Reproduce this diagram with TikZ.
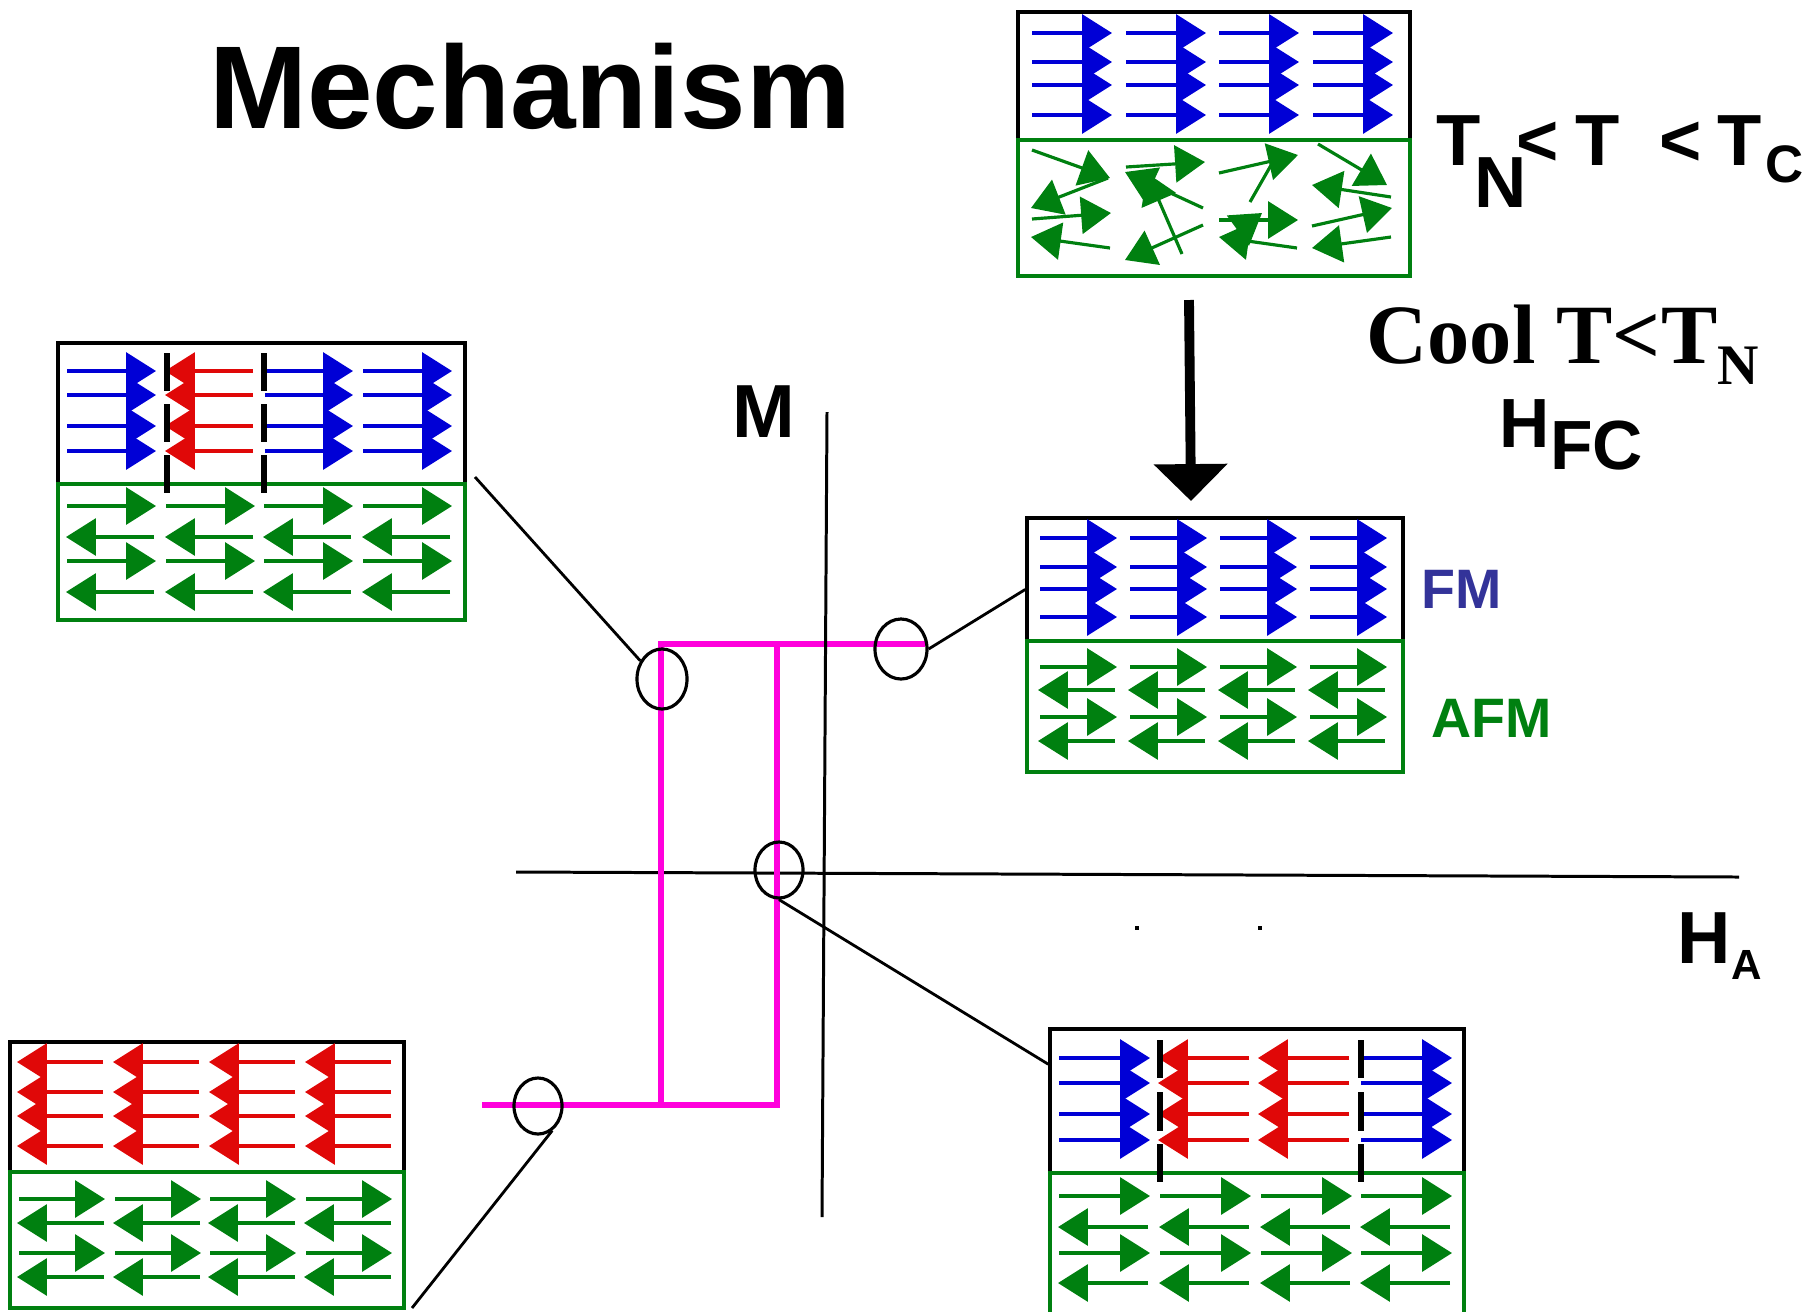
\documentclass[tikz,border=0pt]{standalone}
\usepackage{fontspec}
\setmainfont{Liberation Serif}
\setsansfont{Liberation Sans}
\usetikzlibrary{arrows.meta,shapes.geometric,fit}

\definecolor{spinblue}{RGB}{0,0,214}
\definecolor{spinred}{RGB}{224,8,8}
\definecolor{afmgreen}{RGB}{0,128,16}
\definecolor{loopmag}{RGB}{255,0,220}
\definecolor{fmtext}{RGB}{51,51,153}

\tikzset{
    spin/.style={
        line width=0.9pt,
        -{Triangle[length=8.5pt,width=10.5pt]}
    },
    fmframe/.style={
        draw=black,
        line width=1pt,
        inner sep=0pt
    },
    afmframe/.style={
        draw=afmgreen,
        line width=1pt,
        inner sep=0pt
    },
    ring/.style={
        shape=ellipse,
        draw,
        line width=0.9pt,
        inner sep=0pt,
        minimum width=0.5cm,
        minimum height=0.6cm
    },
    tag/.style={
        inner sep=0pt,
        anchor=base west
    }
}

\begin{document}
\begin{tikzpicture}[
			x=0.01cm, y=-0.01cm,
			wall/.style={line width=1.8pt},
			lead/.style={line width=0.8pt},
			axis/.style={line width=0.85pt},
			hyst/.style={draw=loopmag, line width=1.7pt}
			]
			\useasboundingbox (0,0) rectangle (1818,1311);

			% bilayer frames
			\node (fmT) [fmframe, fit={(1018,12) (1410,140)}] {};
			\node (afmT) [afmframe, fit={(1018,140) (1410,276)}] {};
			\node (fmL) [fmframe, fit={(58,343) (465,484)}] {};
			\node (afmL) [afmframe, fit={(58,484) (465,620)}] {};
			\node (fmM) [fmframe, fit={(1027,518) (1403,641)}] {};
			\node (afmM) [afmframe, fit={(1027,641) (1403,772)}] {};
			\node (fmBL) [fmframe, fit={(10,1042) (404,1172)}] {};
			\node (afmBL) [afmframe, fit={(10,1172) (404,1308)}] {};
			\node (fmBR) [fmframe, fit={(1050,1029) (1464,1173)}] {};
			\node (afmBR) [afmframe, fit={(1050,1173) (1464,1314)}] {};

			% above T_N: ordered FM, disordered AFM
			\foreach \x in {1032,1126,1219,1313}
				\foreach \y in {33,62,85,115}
					\draw[spin, spinblue] (\x,\y) -- ++(80,0);
			\foreach \xa/\ya/\xb/\yb in {1032/150/1110/178, 1108/178/1031/208, 1032/219/1111/213, 1110/248/1031/237,
					1126/167/1205/162, 1203/208/1125/172, 1182/254/1147/173, 1203/225/1125/260,
					1219/173/1298/155, 1219/220/1298/220, 1225/240/1262/213, 1297/248/1219/237,
					1318/144/1387/185, 1391/197/1312/185, 1312/226/1392/208, 1391/237/1312/248}
				\draw[spin, afmgreen] (\xa,\ya) -- (\xb,\yb);
			\draw[afmgreen, line width=0.9pt] (1250,202) -- (1274,160);

			% field cooled state
			\foreach \x in {1040,1130,1220,1310} {
				\foreach \y in {538,567,589,617}
					\draw[spin, spinblue] (\x,\y) -- ++(77,0);
				\foreach \y in {667,717}
					\draw[spin, afmgreen] (\x,\y) -- ++(77,0);
				\foreach \y in {690,741}
					\draw[spin, afmgreen] (\x+75,\y) -- ++(-77,0);
			}

			% reversal starts: domain walls
			\foreach \y in {371,395,426,451} {
				\draw[spin, spinblue] (67,\y) -- (156,\y);
				\draw[spin, spinred] (253,\y) -- (165,\y);
				\draw[spin, spinblue] (265,\y) -- (353,\y);
				\draw[spin, spinblue] (363,\y) -- (452,\y);
			}
			\foreach \x in {67,166,264,363} {
				\foreach \y in {506,561}
					\draw[spin, afmgreen] (\x,\y) -- ++(89,0);
				\foreach \y in {537,592}
					\draw[spin, afmgreen] (\x+87,\y) -- ++(-88,0);
			}
			\foreach \x in {167,264}
				\foreach \a/\b in {353/391,404/442,455/493}
					\draw[wall] (\x,\a) -- (\x,\b);

			% reversed FM
			\foreach \x in {17,113,209,305}
				\foreach \y in {1062,1092,1116,1146}
					\draw[spin, spinred] (\x+86,\y) -- (\x,\y);
			\foreach \x in {19,115,210,306} {
				\foreach \y in {1199,1253}
					\draw[spin, afmgreen] (\x,\y) -- ++(86,0);
				\foreach \y in {1223,1277}
					\draw[spin, afmgreen] (\x+85,\y) -- ++(-87,0);
			}

			% coming back
			\foreach \y in {1058,1083,1114,1140} {
				\draw[spin, spinblue] (1059,\y) -- (1150,\y);
				\draw[spin, spinred] (1249,\y) -- (1158,\y);
				\draw[spin, spinred] (1349,\y) -- (1258,\y);
				\draw[spin, spinblue] (1361,\y) -- (1452,\y);
			}
			\foreach \x in {1059,1160,1261,1361} {
				\foreach \y in {1196,1253}
					\draw[spin, afmgreen] (\x,\y) -- ++(91,0);
				\foreach \y in {1227,1283}
					\draw[spin, afmgreen] (\x+89,\y) -- ++(-90,0);
			}
			\foreach \x in {1160,1361}
				\foreach \a/\b in {1040/1078,1092/1131,1144/1182}
					\draw[wall] (\x,\a) -- (\x,\b);

			% M(H) loop
			\coordinate (mtop) at (827,412);
			\coordinate (mbot) at (822,1217);
			\coordinate (hleft) at (516,872);
			\coordinate (hright) at (1739,877);
			\draw[axis] (hleft) -- (hright);
			\draw[hyst] (482,1105) -| (777,644) -- (925,644);
			\draw[hyst] (661,1105) |- (777,644);
			\draw[axis] (mbot) -- (mtop);
			\fill (1135,926) rectangle (1139,930);
			\fill (1258,926) rectangle (1262,930);

			\node (ring1) at (662,679) [ring] {};
			\node (ring2) at (901,649) [ring, minimum width=0.52cm] {};
			\node (ring3) at (779,870) [ring, minimum width=0.48cm, minimum height=0.56cm] {};
			\node (ring4) at (538,1106) [ring, minimum width=0.48cm, minimum height=0.56cm] {};

			\coordinate (tailL) at (475,477);
			\coordinate (tailBL) at (412,1308);
			\draw[lead] (tailL) -- (ring1.140);
			\draw[lead] (ring2.east) -- (fmM.183);
			\draw[lead] (ring3.south) -- (fmBR.170);
			\draw[lead] (ring4.-60) -- (tailBL);

			\coordinate (coolA) at (1189,300);
			\coordinate (coolB) at (1191,501);
			\draw[line width=2.8pt, -{Triangle[length=10.5pt,width=20.4pt]}] (coolA) -- (coolB);

			\node (title) at (530,128) [inner sep=0pt, anchor=base, font=\sffamily\bfseries\fontsize{33.5}{40}\selectfont] {Mechanism};
			\node (tnc) at (1436,165) [tag, font=\sffamily\bfseries\fontsize{20.6}{24}\selectfont] {T\kern-1.7pt\raisebox{-12.2pt}{N}\kern-3.1pt<\ \kern-0.85pt T\ \ \kern-0.3pt<\ \kern-1.1pt T\kern0.85pt\raisebox{-5pt}{\fontsize{15}{15}\selectfont C}};
			\node (cool) at (1366,363) [tag, font=\rmfamily\bfseries\fontsize{24}{28}\selectfont] {Cool T<T\raisebox{-6.2pt}{\fontsize{16.3}{18}\selectfont N}};
			\node (hfc) at (1499,447) [tag, font=\sffamily\bfseries\fontsize{19.8}{24}\selectfont] {H\raisebox{-6.5pt}{FC}};
			\node (mlab) at (732,437) [tag, font=\sffamily\bfseries\fontsize{21.4}{24}\selectfont] {M};
			\node (hlab) at (1677,963) [tag, font=\sffamily\bfseries\fontsize{21}{24}\selectfont] {H\raisebox{-4.8pt}{\fontsize{12}{14}\selectfont A}};
			\node (fmlab) at (1421,608) [tag, text=fmtext, font=\sffamily\bfseries\fontsize{15.8}{18}\selectfont] {FM};
			\node (afmlab) at (1431,737) [tag, text=afmgreen, font=\sffamily\bfseries\fontsize{15.8}{18}\selectfont] {AFM};
		\end{tikzpicture}
\end{document}
